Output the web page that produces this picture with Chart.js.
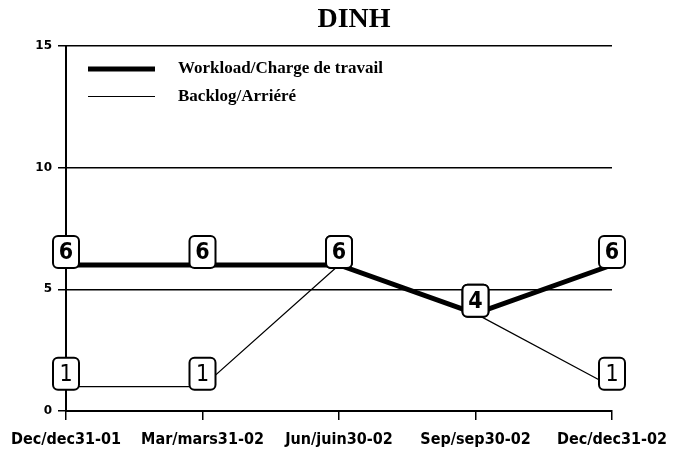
<!DOCTYPE html>
<html>
<head>
<meta charset="utf-8">
<script src="https://cdn.jsdelivr.net/npm/chart.js@4.4.0/dist/chart.umd.min.js"></script>
<style>
  html, body { margin: 0; padding: 0; background: #fff; }
  #wrap { width: 673px; height: 455px; }
</style>
</head>
<body>
<div id="wrap"><canvas id="dinh_chart"></canvas></div>
<script>
const titleText = "DINH";
const periods = ["Dec/dec31-01", "Mar/mars31-02", "Jun/juin30-02", "Sep/sep30-02", "Dec/dec31-02"];
const workload = [6, 6, 6, 4, 6];
const backlog = [1, 1, 6, 4, 1];
const yTicks = [0, 5, 10, 15];

// title, legend inside the plot and the rounded value boxes
const decorPlugin = {
  id: "decor",
  afterDraw(chart) {
    const ctx = chart.ctx;
    const area = chart.chartArea;
    ctx.save();
    ctx.fillStyle = "#000";
    ctx.font = "bold 28px 'Liberation Serif'";
    ctx.textAlign = "center";
    ctx.textBaseline = "middle";
    ctx.fillText(titleText, 354, 20);

    // legend
    ctx.textAlign = "left";
    ctx.font = "bold 17px 'Liberation Serif'";
    chart.data.datasets.forEach((ds, i) => {
      const y = Math.round(area.top + 23 + i * 27) + (i === 1 ? 0.5 : 0);
      ctx.beginPath();
      ctx.lineWidth = i === 1 ? 1 : ds.borderWidth;
      ctx.strokeStyle = "#000";
      ctx.moveTo(area.left + 22, y);
      ctx.lineTo(area.left + 89, y);
      ctx.stroke();
      ctx.fillText(ds.label, area.left + 112, y);
    });
    ctx.restore();
  },
  afterDatasetsDraw(chart) {
    const ctx = chart.ctx;
    ctx.save();
    // backlog first so the workload boxes sit on top where they meet
    [1, 0].forEach((i) => {
      const ds = chart.data.datasets[i];
      const meta = chart.getDatasetMeta(i);
      meta.data.forEach((pt, j) => {
        const w = 26, h = 32;
        const x = pt.x - w / 2;
        const y = pt.y + 3 - h;
        ctx.beginPath();
        ctx.roundRect(x, y, w, h, 5);
        ctx.fillStyle = "#fff";
        ctx.fill();
        ctx.lineWidth = 2;
        ctx.strokeStyle = "#000";
        ctx.stroke();
        ctx.fillStyle = "#000";
        ctx.textAlign = "center";
        ctx.textBaseline = "middle";
        ctx.font = (i === 0 ? "bold " : "") + "23px 'DejaVu Sans Condensed', 'DejaVu Sans'";
        ctx.fillText(String(ds.data[j]), pt.x, y + h / 2 + 1);
      });
    });
    ctx.restore();
  },
};

const ctx = document.getElementById("dinh_chart").getContext("2d");
const myChart = new Chart(ctx, {
  type: "line",
  data: {
    labels: periods,
    datasets: [
      {
        label: "Workload/Charge de travail",
        data: workload,
        borderColor: "#000",
        borderWidth: 5,
        pointRadius: 0,
        tension: 0,
        fill: false,
      },
      {
        label: "Backlog/Arriéré",
        data: backlog,
        borderColor: "#000",
        borderWidth: 1.2,
        pointRadius: 0,
        tension: 0,
        fill: false,
      },
    ],
  },
  options: {
    responsive: true,
    maintainAspectRatio: false,
    animation: false,
    layout: { padding: { top: 46, right: 0, left: 0, bottom: 0 } },
    plugins: {
      legend: { display: false },
      tooltip: { enabled: false },
    },
    scales: {
      x: {
        offset: false,
        afterFit: (scale) => { scale.height = 44; scale.paddingRight = 61; },
        grid: {
          drawOnChartArea: false,
          color: "#000",
          lineWidth: 1.5,
          tickLength: 9,
        },
        border: { color: "#000", width: 2 },
        ticks: {
          color: "#000",
          font: { family: "'DejaVu Sans Condensed', 'DejaVu Sans'", size: 16, weight: "bold" },
          padding: 10,
          maxRotation: 0,
          autoSkip: false,
        },
      },
      y: {
        min: 0,
        max: 15,
        afterFit: (scale) => { scale.width = 66; },
        afterBuildTicks: (scale) => { scale.ticks = yTicks.map((v) => ({ value: v })); },
        grid: {
          color: "#000",
          lineWidth: 1.5,
          tickLength: 8,
        },
        border: { color: "#000", width: 2 },
        ticks: {
          color: "#000",
          font: { family: "'DejaVu Sans'", size: 12, weight: "bold" },
          padding: 6,
        },
      },
    },
  },
  plugins: [decorPlugin],
});
</script>
</body>
</html>
